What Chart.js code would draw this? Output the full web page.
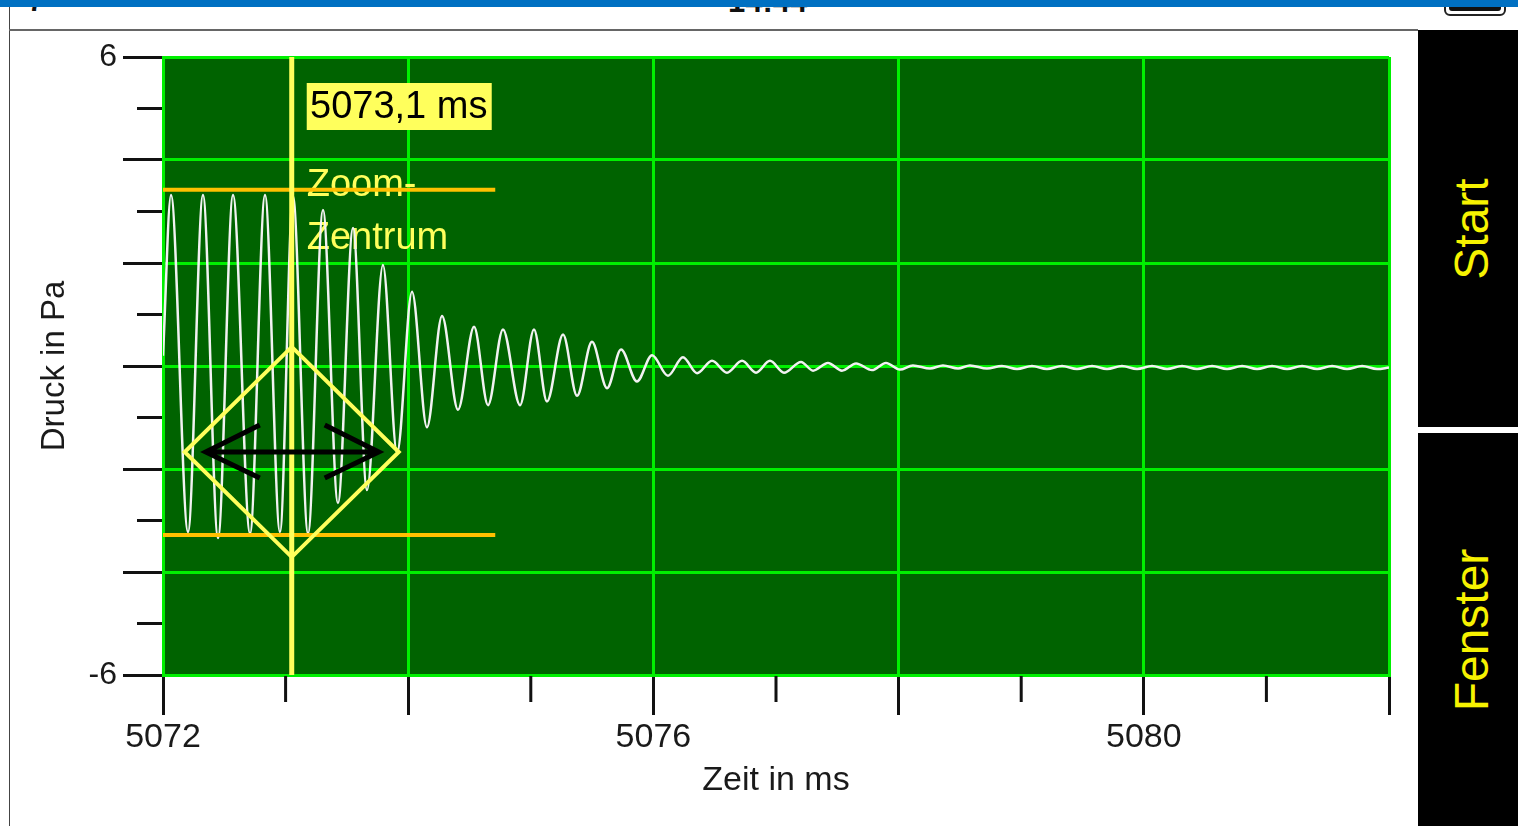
<!DOCTYPE html>
<html>
<head>
<meta charset="utf-8">
<title>Druck in Pa</title>
<script src="https://cdn.jsdelivr.net/npm/chart.js@4.4.0/dist/chart.umd.min.js"></script>
<style>
  html, body { margin: 0; padding: 0; background: #fff; overflow: hidden; }
  body { width: 1518px; height: 826px; position: relative; font-family: "Liberation Sans", Arial, sans-serif; }
  #topbar { position: absolute; left: 0; top: 0; width: 1518px; height: 7px; background: #0070c2; z-index: 3; }
  #clock { position: absolute; left: 728px; top: -16px; font-size: 31px; font-weight: bold; color: #111; z-index: 1; }
  #glyph { position: absolute; left: 28px; top: -14px; font-size: 28px; font-weight: bold; color: #111; z-index: 1; }
  #battery { position: absolute; left: 1444px; top: -12px; width: 58px; height: 24px; border: 2px solid #222; border-radius: 6px; z-index: 1; }
  #battery div { position: absolute; left: 3px; top: 3px; right: 3px; bottom: 3px; background: #111; border-radius: 3px; }
  #leftline { position: absolute; left: 9px; top: 7px; width: 1px; height: 819px; background: #444; }
  #hline { position: absolute; left: 9px; top: 29px; width: 1409px; height: 2px; background: #666; }
  #wrap { position: absolute; left: 0; top: 30px; width: 1418px; height: 796px; }
  .btn { position: absolute; left: 1418px; width: 100px; background: #000; }
  .btn span { position: absolute; left: 53%; top: 50%; transform: translate(-50%, -50%) rotate(-90deg);
              color: #f6f200; font-size: 48px; white-space: nowrap; }
</style>
</head>
<body>
<div id="topbar"></div>
<div id="glyph">7</div>
<div id="clock">14:44</div>
<div id="battery"><div></div></div>
<div id="leftline"></div>
<div id="hline"></div>
<div id="wrap"><canvas id="chart"></canvas></div>
<div class="btn" style="top:30px;height:397px;"><span>Start</span></div>
<div class="btn" style="top:433px;height:393px;"><span>Fenster</span></div>

<script>
// axis ranges and labelled ticks
const xMin = 5072, xMax = 5082;
const yMin = -6, yMax = 6;
const xTickLabels = [5072, 5076, 5080];
const yTickLabels = [6, -6];

// pressure signal: turning points (ms / Pa)
const times = [
  5072.000, 5072.065, 5072.204, 5072.326, 5072.449, 5072.571, 5072.710, 5072.832, 5072.954, 5073.060,
  5073.183, 5073.305, 5073.427, 5073.550, 5073.664, 5073.794, 5073.909, 5074.031, 5074.153, 5074.276,
  5074.406, 5074.537, 5074.651, 5074.773, 5074.912, 5075.026, 5075.132, 5075.263, 5075.377, 5075.499,
  5075.622, 5075.736, 5075.866, 5075.989, 5076.119, 5076.241, 5076.356, 5076.478, 5076.600, 5076.723,
  5076.837, 5076.951, 5077.065, 5077.204, 5077.302, 5077.424, 5077.538, 5077.653, 5077.783, 5077.897,
  5078.011, 5078.117, 5078.256, 5078.362, 5078.485, 5078.582, 5078.721, 5078.843, 5078.966, 5079.088,
  5079.210, 5079.333, 5079.455, 5079.578, 5079.700, 5079.822, 5079.945, 5080.067, 5080.190, 5080.312,
  5080.434, 5080.557, 5080.679, 5080.802, 5080.924, 5081.046, 5081.169, 5081.291, 5081.414, 5081.536,
  5081.658, 5081.781, 5081.903, 5082.000
];
const pressure = [
  0.20, 3.32, -3.22, 3.32, -3.34, 3.32, -3.25, 3.32, -3.22, 3.30,
  -3.25, 3.03, -2.66, 2.68, -2.41, 1.96, -1.69, 1.44, -1.19, 0.97,
  -0.85, 0.76, -0.76, 0.71, -0.76, 0.71, -0.69, 0.61, -0.58, 0.47,
  -0.43, 0.32, -0.30, 0.21, -0.19, 0.17, -0.14, 0.10, -0.13, 0.10,
  -0.13, 0.10, -0.13, 0.08, -0.09, 0.06, -0.09, 0.05, -0.08, 0.06,
  -0.07, 0.01, -0.05, 0.01, -0.05, 0.01, -0.05, 0.00, -0.06, 0.00,
  -0.06, 0.00, -0.06, 0.00, -0.06, 0.00, -0.06, 0.00, -0.06, 0.00,
  -0.06, 0.00, -0.06, 0.00, -0.06, 0.00, -0.06, 0.00, -0.06, 0.00,
  -0.06, 0.00, -0.06, -0.03
];

// zoom cursor
const cursorTime = 5073.05;
const cursorText = '5073,1 ms';
const zoomBandTop = 3.42, zoomBandBottom = -3.28, zoomBandEnd = 5074.71;
const diamondY = -1.67, diamondHalfW = 0.873, diamondHalfH = 2.04;

const plotBg = '#006300';
const gridGreen = '#00f000';
const yellow = '#ffff5c';

const even = v => Math.round(v) % 2 === 0;

const overlay = {
  id: 'overlay',
  beforeDraw(chart) {
    const { ctx, chartArea: a } = chart;
    ctx.save();
    ctx.fillStyle = plotBg;
    ctx.fillRect(a.left, a.top, a.right - a.left, a.bottom - a.top);
    ctx.restore();
  },
  beforeDatasetsDraw(chart) {
    const { ctx, scales: { x, y } } = chart;
    const cx = x.getPixelForValue(cursorTime);
    ctx.save();
    ctx.fillStyle = yellow;
    ctx.font = '38px "Liberation Sans", Arial, sans-serif';
    ctx.textBaseline = 'alphabetic';
    ctx.fillText('Zoom-', cx + 15, y.getPixelForValue(zoomBandTop) + 6);
    ctx.fillText('Zentrum', cx + 15, y.getPixelForValue(zoomBandTop) + 59);
    ctx.restore();
  },
  afterDatasetsDraw(chart) {
    const { ctx, chartArea: a, scales: { x, y } } = chart;
    const cx = x.getPixelForValue(cursorTime);
    ctx.save();
    // zoom band
    ctx.strokeStyle = '#ffc000';
    ctx.lineWidth = 4;
    [zoomBandTop, zoomBandBottom].forEach(v => {
      const py = y.getPixelForValue(v);
      ctx.beginPath();
      ctx.moveTo(a.left, py);
      ctx.lineTo(x.getPixelForValue(zoomBandEnd), py);
      ctx.stroke();
    });
    // cursor line
    ctx.strokeStyle = yellow;
    ctx.lineWidth = 5;
    ctx.beginPath();
    ctx.moveTo(cx, a.top);
    ctx.lineTo(cx, a.bottom);
    ctx.stroke();
    // diamond
    const dy = y.getPixelForValue(diamondY);
    const hw = x.getPixelForValue(cursorTime + diamondHalfW) - cx;
    const hh = y.getPixelForValue(diamondY - diamondHalfH) - dy;
    ctx.lineWidth = 4;
    ctx.beginPath();
    ctx.moveTo(cx, dy - hh);
    ctx.lineTo(cx + hw, dy);
    ctx.lineTo(cx, dy + hh);
    ctx.lineTo(cx - hw, dy);
    ctx.closePath();
    ctx.stroke();
    // double arrow
    ctx.strokeStyle = '#000';
    ctx.lineWidth = 5;
    ctx.lineCap = 'butt';
    const l = cx - 86, r = cx + 87;
    ctx.beginPath();
    ctx.moveTo(l, dy); ctx.lineTo(r, dy);
    ctx.moveTo(l + 54, dy - 27); ctx.lineTo(l, dy); ctx.lineTo(l + 54, dy + 26);
    ctx.moveTo(r - 54, dy - 27); ctx.lineTo(r, dy); ctx.lineTo(r - 54, dy + 26);
    ctx.stroke();
    // cursor label
    ctx.fillStyle = yellow;
    ctx.fillRect(cx + 15, a.top + 26, 185, 47);
    ctx.fillStyle = '#000';
    ctx.font = '38px "Liberation Sans", Arial, sans-serif';
    ctx.textAlign = 'center';
    ctx.textBaseline = 'middle';
    ctx.fillText(cursorText, cx + 107, a.top + 51);
    ctx.restore();
  },
  afterDraw(chart) {
    // short ticks at the odd values
    const { ctx, chartArea: a, scales: { x, y } } = chart;
    ctx.save();
    ctx.strokeStyle = '#111';
    ctx.lineWidth = 3;
    ctx.beginPath();
    x.ticks.forEach(t => {
      if (even(t.value)) return;
      const px = x.getPixelForValue(t.value);
      ctx.moveTo(px, a.bottom + 1); ctx.lineTo(px, a.bottom + 27);
    });
    y.ticks.forEach(t => {
      if (even(t.value)) return;
      const py = y.getPixelForValue(t.value);
      ctx.moveTo(a.left - 1, py); ctx.lineTo(a.left - 26, py);
    });
    ctx.stroke();
    ctx.restore();
  }
};

Chart.defaults.font.family = '"Liberation Sans", Arial, sans-serif';
Chart.defaults.color = '#1a1a1a';

const points = times.map((t, i) => ({ x: t, y: pressure[i] }));

new Chart(document.getElementById('chart'), {
  type: 'line',
  data: {
    datasets: [{
      data: points,
      borderColor: '#f2f2f2',
      borderWidth: 2.5,
      pointRadius: 0,
      cubicInterpolationMode: 'monotone',
      fill: false
    }]
  },
  options: {
    responsive: true,
    maintainAspectRatio: false,
    animation: false,
    layout: { padding: { top: 27, right: 29, bottom: 0, left: 0 } },
    plugins: { legend: { display: false }, tooltip: { enabled: false } },
    scales: {
      x: {
        type: 'linear',
        min: xMin,
        max: xMax,
        afterFit: s => { s.height = 151; },
        ticks: {
          stepSize: 1,
          autoSkip: false,
          maxRotation: 0,
          padding: 2,
          font: { size: 34 },
          callback: v => xTickLabels.includes(v) ? String(v) : ''
        },
        grid: {
          lineWidth: 3,
          color: c => even(c.tick.value) ? gridGreen : 'transparent',
          tickColor: c => even(c.tick.value) ? '#111' : 'transparent',
          tickLength: 40,
          tickWidth: 3
        },
        border: { color: gridGreen, width: 3 },
        title: { display: true, text: 'Zeit in ms', font: { size: 34 }, padding: { top: 0, bottom: 25 } }
      },
      y: {
        min: yMin,
        max: yMax,
        afterFit: s => { s.width = 163; },
        ticks: {
          stepSize: 1,
          autoSkip: false,
          padding: 6,
          font: { size: 32 },
          callback: v => yTickLabels.includes(v) ? String(v) : ''
        },
        grid: {
          lineWidth: 3,
          color: c => even(c.tick.value) ? gridGreen : 'transparent',
          tickColor: c => even(c.tick.value) ? '#111' : 'transparent',
          tickLength: 40,
          tickWidth: 3
        },
        border: { color: gridGreen, width: 3 },
        title: { display: true, text: 'Druck in Pa', font: { size: 33 }, padding: { top: 35, bottom: 0 } }
      }
    }
  },
  plugins: [overlay]
});
</script>
</body>
</html>
